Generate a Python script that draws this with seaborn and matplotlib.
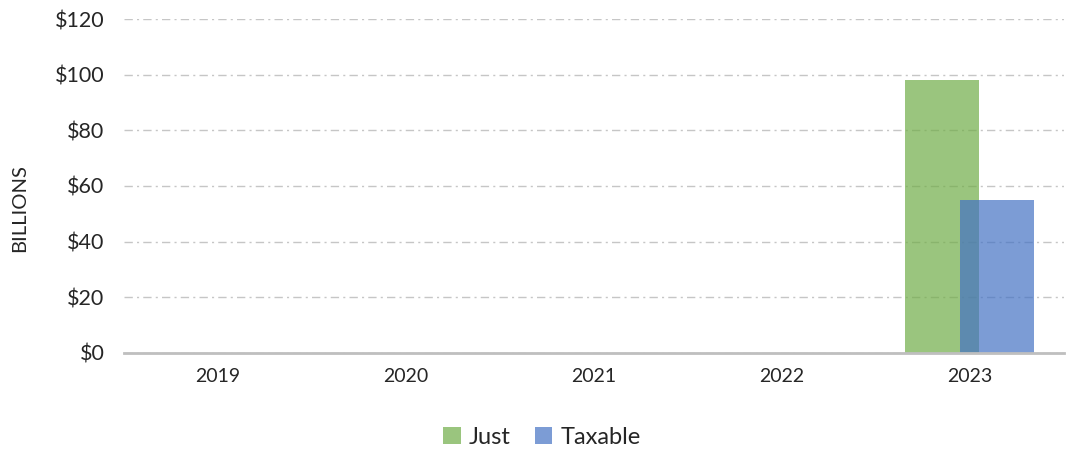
import pandas as pd
import seaborn as sns
import matplotlib.pyplot as plt
from matplotlib.patches import Patch
from matplotlib.ticker import FuncFormatter

# data (billions of dollars)
years = [2019, 2020, 2021, 2022, 2023]
just = [0, 0, 0, 0, 98]
taxable = [0, 0, 0, 0, 55]
series_names = ['Just', 'Taxable']
colors = ['#70AD47', '#4472C4']

sns.set_style('white')
plt.rcParams['font.family'] = ['Lato', 'DejaVu Sans']

fig = plt.figure(figsize=(10.69, 4.53), dpi=100)
ax = fig.add_axes([0.116, 0.221, 0.879, 0.737])

# overlapping bars: each series shifted a bit from the year centre
shift = 0.146
for vals, off, col in zip([just, taxable], [-shift, shift], colors):
    df = pd.DataFrame({'year': [y + off for y in years], 'value': vals})
    sns.barplot(data=df, x='year', y='value', native_scale=True, width=0.394,
                color=col, alpha=0.7, saturation=1, linewidth=0, ax=ax, zorder=3)

ax.set_xlim(years[0] - 0.5, years[-1] + 0.5)
ax.set_xticks(years)
ax.set_xticklabels([str(y) for y in years], fontsize=14)
ax.set_ylim(0, 120)
ax.set_yticks(range(0, 121, 20))
ax.yaxis.set_major_formatter(FuncFormatter(lambda v, p: '${:.0f}'.format(v)))
ax.tick_params(axis='y', labelsize=15.5, length=0, pad=14)
ax.tick_params(axis='x', length=0, pad=11)
ax.set_xlabel('')
ax.set_ylabel('BILLIONS', fontsize=14.5)
ax.yaxis.set_label_coords(-0.102, 0.435)

ax.yaxis.grid(True, color='#c6c6c6', linewidth=1, linestyle=(0, (6, 3, 1.5, 3)))
ax.set_axisbelow(True)
for s in ['top', 'right', 'left']:
    ax.spines[s].set_visible(False)
ax.spines['bottom'].set_color('#bfbfbf')
ax.spines['bottom'].set_linewidth(2)
ax.spines['bottom'].set_zorder(4)

handles = [Patch(facecolor=c, alpha=0.7, edgecolor='none') for c in colors]
fig.legend(handles, series_names, loc='center', bbox_to_anchor=(0.507, 0.035),
           ncol=2, frameon=False, fontsize=17, handlelength=0.75, handleheight=0.75,
           handletextpad=0.35, columnspacing=1.0)

fig.savefig('out.png', dpi=100)
